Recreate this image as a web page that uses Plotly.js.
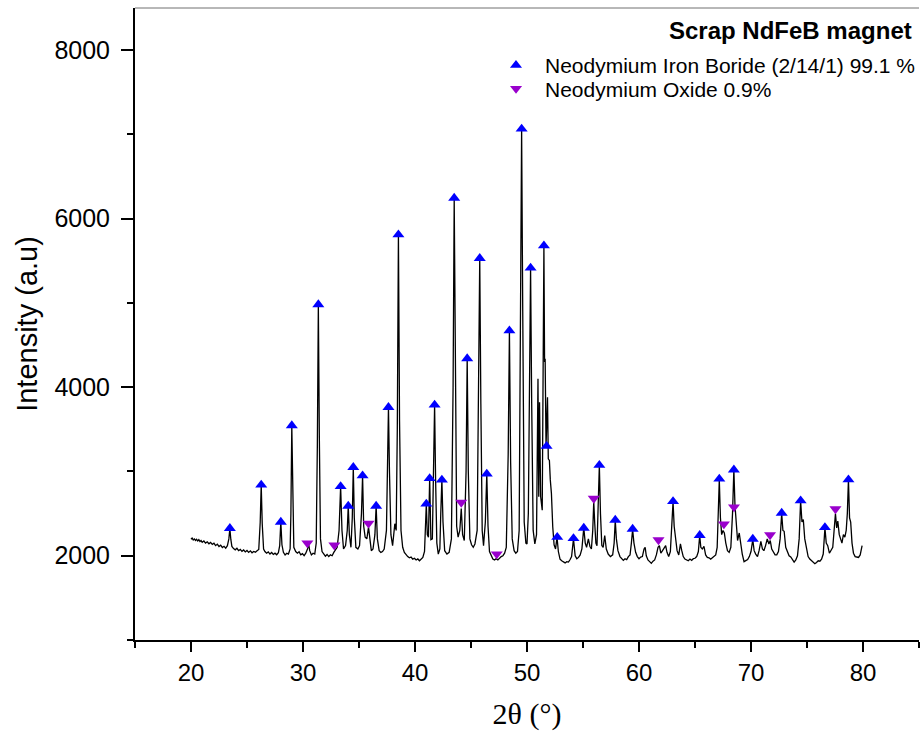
<!DOCTYPE html>
<html>
<head>
<meta charset="utf-8">
<script src="https://cdn.plot.ly/plotly-3.0.1.min.js"></script>
<style>html,body{margin:0;padding:0;background:#fff;}#chart{width:921px;height:738px;}</style>
</head>
<body>
<div id="chart"></div>
<script>
// Measured XRD scan: [2θ (deg), intensity (a.u.)]
const scanPoints = [
[20.00,2195],[20.10,2210],[20.20,2188],[20.30,2200],[20.40,2182],[20.50,2196],[20.60,2175],[20.70,2190],[20.80,2168],[20.90,2180],
[21.00,2160],[21.15,2175],[21.30,2150],[21.45,2165],[21.60,2142],[21.75,2158],[21.90,2135],[22.05,2148],[22.20,2120],[22.35,2138],
[22.50,2110],[22.65,2125],[22.80,2098],[22.95,2112],[23.10,2090],[23.25,2120],[23.38,2200],[23.47,2320],[23.56,2190],[23.65,2110],
[23.80,2085],[23.95,2070],[24.10,2088],[24.25,2060],[24.40,2075],[24.55,2052],[24.70,2068],[24.85,2045],[25.00,2062],[25.15,2040],
[25.30,2058],[25.45,2035],[25.60,2050],[25.75,2042],[25.90,2060],[26.05,2075],[26.18,2400],[26.27,2840],[26.36,2380],[26.48,2080],
[26.60,2050],[26.75,2030],[26.90,2045],[27.05,2020],[27.20,2038],[27.35,2015],[27.50,2030],[27.65,2012],[27.80,2035],[27.92,2120],
[28.02,2400],[28.12,2130],[28.25,2040],[28.40,2010],[28.55,2030],[28.70,2020],[28.85,2080],[28.92,2500],[29.00,3540],[29.08,2600],
[29.18,2100],[29.35,2050],[29.50,2030],[29.65,2048],[29.80,2010],[29.95,2025],[30.10,2000],[30.25,2030],[30.40,2080],[30.50,2140],
[30.60,2060],[30.75,2010],[30.90,2030],[31.05,2020],[31.18,2150],[31.28,3300],[31.37,4970],[31.46,3400],[31.56,2200],[31.70,2050],
[31.85,2020],[32.00,1995],[32.15,2015],[32.30,1990],[32.45,2010],[32.60,2000],[32.75,2040],[32.90,2070],[33.05,2100],[33.22,2300],
[33.36,2820],[33.48,2300],[33.62,2080],[33.80,2120],[33.95,2300],[34.04,2590],[34.14,2250],[34.28,2100],[34.40,2450],[34.49,3050],
[34.58,2450],[34.72,2100],[34.90,2080],[35.05,2120],[35.22,2500],[35.32,2950],[35.42,2350],[35.55,2220],[35.70,2200],[35.85,2340],
[35.95,2200],[36.10,2060],[36.25,2080],[36.42,2250],[36.53,2590],[36.64,2200],[36.80,2060],[36.95,2040],[37.10,2050],[37.25,2080],
[37.45,2300],[37.55,3000],[37.63,3760],[37.72,3000],[37.85,2250],[38.00,2120],[38.20,2380],[38.32,2300],[38.42,3500],[38.52,5810],
[38.62,3600],[38.75,2300],[38.90,2100],[39.05,2040],[39.20,2010],[39.35,1990],[39.50,1975],[39.65,1985],[39.80,1960],[39.95,1970],
[40.10,1950],[40.25,1962],[40.40,1940],[40.55,1958],[40.70,1980],[40.85,2050],[40.94,2400],[41.01,2610],[41.10,2250],[41.20,2220],
[41.31,2915],[41.42,2190],[41.55,2200],[41.66,2900],[41.75,3790],[41.84,2900],[41.95,2150],[42.08,2020],[42.22,2080],[42.30,2500],
[42.40,2900],[42.50,2400],[42.65,2060],[42.85,2020],[43.05,2040],[43.25,2200],[43.40,4000],[43.50,6240],[43.60,4100],[43.72,2350],
[43.85,2220],[44.00,2300],[44.13,2560],[44.25,2250],[44.40,2180],[44.56,3000],[44.66,4340],[44.76,3000],[44.90,2200],[45.05,2130],
[45.20,2100],[45.35,2140],[45.55,2300],[45.68,3900],[45.78,5530],[45.88,3800],[46.00,2300],[46.12,2120],[46.28,2400],[46.41,2970],
[46.52,2350],[46.65,2050],[46.80,2000],[46.95,1960],[47.10,1950],[47.25,1965],[47.40,1950],[47.55,1975],[47.70,1990],[47.85,2000],
[48.00,2030],[48.15,2100],[48.32,3200],[48.43,4670],[48.54,3100],[48.68,2200],[48.85,2060],[49.00,2030],[49.15,2050],[49.30,2300],
[49.42,4800],[49.52,7060],[49.62,4900],[49.75,2400],[49.90,2150],[50.00,2140],[50.12,2500],[50.22,4000],[50.32,5415],[50.42,3800],
[50.55,2300],[50.70,2140],[50.85,2250],[50.98,4100],[51.05,2700],[51.12,3820],[51.22,2700],[51.36,2540],[51.45,4500],[51.51,5680],
[51.57,4300],[51.62,4337],[51.70,3300],[51.78,3700],[51.83,3880],[51.90,3150],[52.00,3130],[52.08,2900],[52.18,2740],[52.30,2340],
[52.42,2130],[52.55,2080],[52.68,2220],[52.80,2050],[52.95,1960],[53.10,1940],[53.25,1925],[53.40,1915],[53.55,1930],[53.70,1925],
[53.85,1955],[53.98,1990],[54.15,2200],[54.30,2000],[54.45,1965],[54.60,1980],[54.75,2010],[54.90,2080],[55.07,2330],[55.20,2150],
[55.32,2100],[55.48,2200],[55.62,2110],[55.75,2080],[55.87,2300],[55.96,2640],[56.05,2380],[56.15,2150],[56.25,2120],[56.36,2600],
[56.46,3070],[56.56,2500],[56.68,2120],[56.80,2100],[56.94,2240],[57.08,2080],[57.25,2020],[57.45,1990],[57.65,2010],[57.78,2150],
[57.88,2420],[57.98,2200],[58.12,2060],[58.30,1990],[58.45,1960],[58.60,1945],[58.75,1965],[58.90,1955],[59.05,1990],[59.20,2010],
[59.32,2150],[59.43,2310],[59.55,2150],[59.70,2040],[59.85,1990],[60.00,1965],[60.15,1985],[60.30,1990],[60.45,2080],[60.55,2100],
[60.65,2000],[60.80,1950],[60.95,1930],[61.10,1910],[61.25,1935],[61.40,1950],[61.55,2010],[61.70,2100],[61.82,2120],[61.95,2030],
[62.10,2060],[62.22,2090],[62.38,2120],[62.50,2040],[62.65,1990],[62.80,2050],[62.94,2350],[63.04,2640],[63.14,2350],[63.25,2200],
[63.40,2060],[63.55,2010],[63.70,2140],[63.82,2060],[63.95,1990],[64.10,1960],[64.25,1950],[64.40,1940],[64.55,1960],[64.70,1945],
[64.85,1965],[65.00,1970],[65.15,1990],[65.30,2050],[65.42,2240],[65.52,2100],[65.65,2080],[65.80,2110],[65.95,2010],[66.10,1980],
[66.25,1975],[66.40,1960],[66.55,1975],[66.70,1990],[66.85,2010],[66.98,2100],[67.08,2500],[67.17,2900],[67.27,2450],[67.38,2250],
[67.50,2300],[67.62,2270],[67.75,2150],[67.90,2060],[68.05,2040],[68.20,2100],[68.35,2500],[68.47,3020],[68.57,2600],[68.68,2350],
[68.80,2180],[68.95,2270],[69.08,2120],[69.22,2020],[69.38,1930],[69.55,1940],[69.70,1955],[69.85,1990],[70.00,2050],[70.16,2190],
[70.28,2060],[70.42,2020],[70.58,1990],[70.72,2060],[70.88,2170],[71.02,2080],[71.15,2060],[71.30,2120],[71.45,2200],[71.60,2140],
[71.72,2180],[71.85,2080],[72.00,2050],[72.15,2010],[72.30,2010],[72.45,2050],[72.60,2200],[72.74,2500],[72.85,2300],[72.96,2290],
[73.10,2100],[73.25,2040],[73.40,2000],[73.55,1985],[73.70,1960],[73.85,1925],[74.00,1950],[74.15,2000],[74.30,2200],[74.43,2650],
[74.55,2400],[74.67,2430],[74.80,2200],[74.95,2080],[75.10,1990],[75.25,1960],[75.40,1940],[75.55,1925],[75.70,1905],[75.85,1920],
[76.00,1940],[76.15,1935],[76.30,1960],[76.45,2020],[76.60,2330],[76.72,2150],[76.85,2120],[77.00,2030],[77.15,2060],[77.30,2100],
[77.42,2300],[77.54,2500],[77.65,2330],[77.75,2410],[77.88,2250],[78.00,2180],[78.12,2150],[78.25,2250],[78.38,2220],[78.50,2300],
[78.60,2500],[78.70,2900],[78.80,2450],[78.90,2400],[79.02,2150],[79.15,2030],[79.30,1990],[79.45,1985],[79.60,1980],[79.75,2010],
[79.85,2070],[79.92,2120]
];

// Phase markers
const ndFeBPos = [23.47,26.27,28.02,29.00,31.37,33.36,34.04,34.49,35.32,36.53,37.63,38.52,41.01,41.31,41.75,42.40,43.50,44.66,45.78,46.41,48.43,49.52,50.32,51.51,51.75,52.70,54.15,55.07,56.46,57.88,59.43,63.04,65.42,67.17,68.47,70.16,72.74,74.43,76.60,78.70];
const ndFeBInt = [2325,2840,2400,3545,4980,2823,2590,3049,2950,2590,3762,5810,2614,2918,3790,2899,6245,4340,5530,2970,4670,7065,5415,5680,3300,2220,2205,2329,3075,2424,2317,2645,2243,2911,3020,2198,2507,2653,2336,2903];
const oxidePos = [30.39,32.80,35.85,44.13,47.30,55.96,61.74,67.58,68.48,71.70,77.54];
const oxideInt = [2151,2125,2384,2633,2020,2680,2187,2376,2578,2246,2555];

const seriesNames = ['Neodymium Iron Boride (2/14/1) 99.1 %', 'Neodymium Oxide 0.9%'];
const legendTitle = 'Scrap NdFeB magnet';
const xTitle = '2θ (°)';
const yTitle = 'Intensity (a.u)';

const sans = 'Liberation Sans, Arial, sans-serif';

const traces = [
  {
    x: scanPoints.map(p => p[0]), y: scanPoints.map(p => p[1]),
    type: 'scatter', mode: 'lines', line: {color: '#000000', width: 1.3},
    showlegend: false, hoverinfo: 'skip'
  },
  {
    x: ndFeBPos, y: ndFeBInt, type: 'scatter', mode: 'markers', name: seriesNames[0],
    legend: 'legend',
    marker: {symbol: 'triangle-up', size: 10.5, color: '#0000FF'}
  },
  {
    x: oxidePos, y: oxideInt, type: 'scatter', mode: 'markers', name: seriesNames[1],
    legend: 'legend2',
    marker: {symbol: 'triangle-down', size: 10.5, color: '#9900CC'}
  }
];

const legendBase = {
  xanchor: 'left', yanchor: 'middle', itemwidth: 48,
  bgcolor: 'rgba(0,0,0,0)', borderwidth: 0,
  font: {family: sans, size: 21, color: '#000000'}
};

const layout = {
  width: 921, height: 738,
  margin: {l: 135, r: 0, t: 8, b: 98},
  paper_bgcolor: '#ffffff', plot_bgcolor: '#ffffff',
  font: {family: sans, color: '#000000'},
  xaxis: {
    range: [15, 85], tick0: 0, dtick: 10,
    showgrid: false, zeroline: false,
    showline: true, linecolor: '#000000', linewidth: 2,
    ticks: 'outside', ticklen: 10, tickwidth: 2, tickcolor: '#000000',
    minor: {dtick: 5, ticks: 'outside', ticklen: 6, tickwidth: 2, tickcolor: '#000000', showgrid: false},
    tickfont: {family: sans, size: 24, color: '#000000'},
    title: {text: xTitle, font: {family: 'Liberation Serif, Times New Roman, serif', size: 30, color: '#000000'}, standoff: 18}
  },
  yaxis: {
    range: [1000, 8500], tick0: 0, dtick: 2000,
    showgrid: false, zeroline: false,
    showline: true, linecolor: '#000000', linewidth: 2,
    ticks: 'outside', ticklen: 12, tickwidth: 2, tickcolor: '#000000',
    ticklabelstandoff: 6,
    minor: {dtick: 1000, ticks: 'outside', ticklen: 6, tickwidth: 2, tickcolor: '#000000', showgrid: false},
    tickfont: {family: sans, size: 25, color: '#000000'},
    title: {text: yTitle, font: {family: sans, size: 29, color: '#000000'}, standoff: 8}
  },
  showlegend: true,
  legend: Object.assign({}, legendBase, {x: 0.449, y: 0.909}),
  legend2: Object.assign({}, legendBase, {x: 0.449, y: 0.872}),
  annotations: [
    {text: '<b>' + legendTitle + '</b>', xref: 'paper', yref: 'paper', x: 0.994, y: 0.964,
     xanchor: 'right', yanchor: 'middle', showarrow: false, font: {family: sans, size: 24, color: '#000000'}}
  ],
  shapes: [
    {type: 'line', xref: 'paper', yref: 'paper', x0: 0, x1: 1, y0: 1, y1: 1, line: {color: '#707070', width: 1}}
  ]
};

Plotly.newPlot('chart', traces, layout, {displayModeBar: false, staticPlot: true});
</script>
</body>
</html>
